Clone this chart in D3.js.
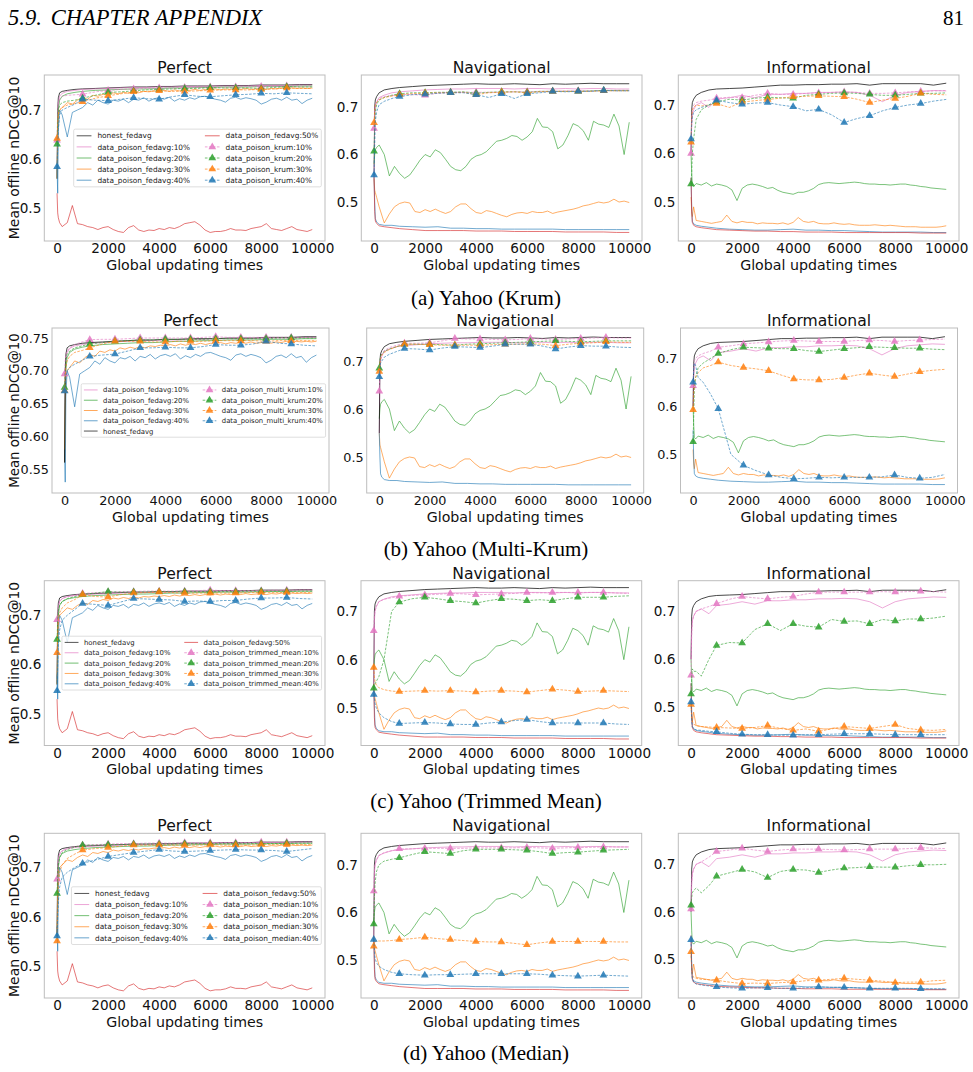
<!DOCTYPE html>
<html>
<head>
<meta charset="utf-8">
<script src="https://cdn.jsdelivr.net/npm/d3@7"></script>
<style>
  body { margin: 0; background: #fff; }
  svg { display: block; }
</style>
</head>
<body>
<div id="fig"></div>
<script>
// ---- x grids (global updating times) ----
const xMid = [0,25,50,100,200,400,700, 1000,1500,2000,2500,3000,3500,4000,4500,5000,5500,6000,6500,7000,7500,8000,8500,9000,9500,10000];
const xFine = [0,25,50,100,200,400,600,800,1000,1200,
  1400,1600,1800,2000,2200,2400,2600,2800,3000,3200,
  3400,3600,3800,4000,4200,4400,4600,4800,5000,5200,
  5400,5600,5800,6000,6200,6400,6600,6800,7000,7200,
  7400,7600,7800,8000,8200,8400,8600,8800,9000,9200,
  9400,9600,9800,10000];

// ---- fedavg runs, Perfect click model ----
const perfHonest   = [0.56,0.70,0.725,0.735,0.738,0.740,0.742, 0.743,0.744,0.745,0.746,0.747,0.747,0.748,0.748,0.749,0.749,0.749,0.750,0.750,0.750,0.751,0.751,0.751,0.752,0.752];
const perfFedavg10 = [0.56,0.68,0.715,0.728,0.734,0.738,0.740, 0.742,0.743,0.744,0.745,0.746,0.746,0.747,0.747,0.748,0.748,0.749,0.749,0.749,0.749,0.750,0.750,0.750,0.751,0.751];
const perfFedavg20 = [0.56,0.66,0.70,0.72,0.728,0.733,0.736, 0.738,0.740,0.741,0.742,0.743,0.743,0.744,0.745,0.745,0.746,0.746,0.747,0.747,0.747,0.748,0.748,0.748,0.749,0.749];
const perfFedavg30 = [0.56,0.64,0.69,0.70,0.705,0.715,0.712,0.72,0.725,0.722,
  0.73,0.728,0.732,0.73,0.735,0.733,0.736,0.734,0.737,0.735,
  0.738,0.737,0.739,0.738,0.74,0.738,0.741,0.739,0.741,0.74,
  0.742,0.74,0.742,0.741,0.743,0.741,0.743,0.742,0.743,0.742,
  0.744,0.742,0.743,0.744,0.742,0.744,0.743,0.745,0.743,0.745,
  0.744,0.745,0.744,0.745];
const perfFedavg40 = [0.58,0.53,0.66,0.70,0.69,0.645,0.695,0.70,0.705,0.715,
  0.71,0.72,0.715,0.712,0.72,0.718,0.722,0.715,0.722,0.72,
  0.725,0.718,0.723,0.725,0.722,0.726,0.718,0.723,0.72,0.725,
  0.722,0.727,0.728,0.725,0.722,0.72,0.716,0.724,0.726,0.722,
  0.725,0.723,0.72,0.712,0.716,0.722,0.724,0.72,0.726,0.72,
  0.722,0.713,0.72,0.724];
const perfFedavg50 = [0.53,0.49,0.48,0.47,0.462,0.47,0.505,0.468,0.466,0.462,
  0.46,0.456,0.46,0.462,0.456,0.452,0.45,0.46,0.464,0.455,
  0.452,0.455,0.454,0.458,0.456,0.46,0.458,0.462,0.468,0.47,
  0.472,0.465,0.455,0.45,0.452,0.452,0.454,0.458,0.455,0.455,
  0.454,0.458,0.46,0.462,0.468,0.458,0.456,0.454,0.458,0.462,
  0.456,0.454,0.452,0.456];

// ---- fedavg runs, Navigational click model ----
const navHonest   = [0.55,0.70,0.715,0.722,0.73,0.736,0.739, 0.741,0.743,0.745,0.746,0.747,0.748,0.749,0.748,0.748,0.749,0.748,0.747,0.749,0.748,0.749,0.75,0.749,0.749,0.749];
const navFedavg10 = [0.55,0.68,0.70,0.71,0.72,0.725,0.73, 0.732,0.734,0.736,0.737,0.738,0.738,0.739,0.739,0.739,0.738,0.739,0.739,0.738,0.739,0.738,0.739,0.739,0.738,0.738];
const navFedavg20 = [0.58,0.60,0.61,0.615,0.62,0.60,0.555,0.575,0.56,0.55,
  0.557,0.572,0.588,0.60,0.595,0.61,0.604,0.59,0.575,0.568,
  0.566,0.575,0.59,0.597,0.60,0.606,0.617,0.628,0.63,0.634,
  0.64,0.638,0.63,0.637,0.648,0.676,0.658,0.657,0.648,0.612,
  0.62,0.64,0.665,0.66,0.65,0.63,0.67,0.664,0.662,0.657,
  0.685,0.66,0.60,0.668];
const navFedavg30 = [0.55,0.525,0.52,0.51,0.49,0.456,0.475,0.49,0.497,0.50,
  0.498,0.48,0.478,0.484,0.48,0.485,0.48,0.476,0.48,0.49,
  0.496,0.496,0.486,0.478,0.476,0.482,0.48,0.476,0.472,0.469,
  0.474,0.477,0.478,0.476,0.48,0.478,0.478,0.481,0.476,0.479,
  0.481,0.483,0.485,0.488,0.492,0.494,0.497,0.50,0.498,0.50,
  0.506,0.50,0.502,0.499];
const navFedavg40 = [0.55,0.50,0.465,0.458,0.453,0.451,0.451, 0.449,0.448,0.447,0.448,0.445,0.445,0.444,0.444,0.443,0.443,0.443,0.443,0.443,0.442,0.442,0.442,0.442,0.442,0.442];
const navFedavg50 = [0.55,0.48,0.46,0.455,0.45,0.448,0.446, 0.444,0.442,0.44,0.44,0.44,0.44,0.439,0.439,0.439,0.438,0.438,0.438,0.438,0.437,0.437,0.437,0.437,0.436,0.436];

// ---- fedavg runs, Informational click model ----
const infoHonest   = [0.60,0.69,0.705,0.712,0.72,0.726,0.731, 0.733,0.734,0.735,0.737,0.739,0.741,0.741,0.742,0.742,0.743,0.743,0.744,0.741,0.744,0.744,0.744,0.744,0.741,0.745];
const infoFedavg10 = [0.60,0.66,0.68,0.69,0.70,0.705,0.695, 0.712,0.715,0.72,0.715,0.722,0.722,0.724,0.724,0.726,0.726,0.727,0.726,0.72,0.707,0.72,0.726,0.728,0.73,0.729];
const infoFedavg20 = [0.60,0.56,0.535,0.532,0.538,0.535,0.54,0.533,0.537,0.535,
  0.532,0.525,0.503,0.528,0.535,0.537,0.535,0.532,0.528,0.53,
  0.524,0.52,0.518,0.516,0.52,0.52,0.523,0.528,0.536,0.539,
  0.54,0.539,0.538,0.539,0.54,0.541,0.54,0.538,0.537,0.537,
  0.536,0.536,0.535,0.536,0.537,0.537,0.535,0.534,0.532,0.531,
  0.529,0.528,0.527,0.526];
const infoFedavg30 = [0.51,0.48,0.47,0.49,0.462,0.46,0.458,0.456,0.458,0.46,
  0.473,0.46,0.457,0.46,0.458,0.458,0.455,0.457,0.456,0.456,
  0.455,0.457,0.454,0.458,0.468,0.46,0.458,0.46,0.456,0.455,
  0.455,0.457,0.455,0.454,0.455,0.453,0.452,0.452,0.452,0.453,
  0.452,0.451,0.452,0.451,0.45,0.449,0.449,0.449,0.448,0.448,
  0.448,0.448,0.449,0.451];
const infoFedavg40 = [0.55,0.49,0.46,0.455,0.452,0.45,0.448, 0.446,0.444,0.443,0.442,0.442,0.443,0.444,0.442,0.442,0.441,0.441,0.44,0.439,0.438,0.438,0.438,0.438,0.437,0.437];
const infoFedavg50 = [0.55,0.48,0.458,0.452,0.449,0.447,0.445, 0.443,0.442,0.441,0.44,0.44,0.439,0.439,0.438,0.438,0.438,0.437,0.437,0.437,0.437,0.437,0.437,0.436,0.436,0.436];

// ---- Krum (on xMid) ----
const krumPerf10 = [0.638,0.70,0.715,0.722,0.728,0.73,0.731, 0.732,0.737,0.74,0.742,0.743,0.744,0.745,0.745,0.746,0.746,0.747,0.747,0.747,0.748,0.748,0.748,0.749,0.749,0.749];
const krumPerf20 = [0.63,0.68,0.70,0.71,0.715,0.718,0.72, 0.724,0.73,0.736,0.737,0.739,0.741,0.742,0.743,0.744,0.744,0.7456,0.745,0.745,0.745,0.744,0.746,0.7476,0.747,0.747];
const krumPerf30 = [0.642,0.67,0.69,0.70,0.705,0.71,0.713, 0.717,0.724,0.729,0.733,0.737,0.738,0.739,0.738,0.738,0.739,0.74,0.741,0.741,0.741,0.742,0.743,0.745,0.744,0.744];
const krumPerf40 = [0.584,0.62,0.66,0.69,0.70,0.705,0.712, 0.722,0.72,0.719,0.722,0.725,0.723,0.722,0.727,0.731,0.728,0.727,0.729,0.731,0.732,0.734,0.733,0.735,0.734,0.733];
const krumNav10 = [0.655,0.69,0.705,0.712,0.718,0.722,0.724, 0.727,0.726,0.725,0.729,0.731,0.731,0.731,0.731,0.731,0.732,0.732,0.733,0.733,0.734,0.734,0.734,0.735,0.735,0.735];
const krumNav20 = [0.607,0.66,0.69,0.705,0.715,0.72,0.725, 0.728,0.73,0.73,0.731,0.731,0.732,0.729,0.731,0.732,0.732,0.731,0.733,0.733,0.733,0.733,0.734,0.735,0.735,0.735];
const krumNav30 = [0.667,0.695,0.705,0.71,0.715,0.72,0.723, 0.726,0.728,0.729,0.73,0.73,0.731,0.726,0.73,0.731,0.732,0.73,0.732,0.733,0.733,0.733,0.733,0.734,0.734,0.734];
const krumNav40 = [0.557,0.62,0.67,0.69,0.705,0.712,0.718, 0.722,0.726,0.727,0.729,0.73,0.73,0.726,0.72,0.728,0.718,0.728,0.73,0.733,0.732,0.733,0.733,0.735,0.734,0.734];
const krumInfo10 = [0.60,0.67,0.69,0.70,0.705,0.708,0.71, 0.714,0.716,0.715,0.72,0.724,0.722,0.722,0.724,0.725,0.726,0.727,0.726,0.724,0.724,0.725,0.727,0.728,0.729,0.73];
const krumInfo20 = [0.537,0.56,0.60,0.63,0.67,0.69,0.70, 0.706,0.712,0.71,0.714,0.716,0.715,0.714,0.72,0.722,0.724,0.725,0.724,0.722,0.72,0.72,0.722,0.724,0.724,0.725];
const krumInfo30 = [0.623,0.67,0.69,0.695,0.70,0.698,0.70, 0.703,0.695,0.706,0.709,0.7115,0.714,0.717,0.718,0.719,0.718,0.717,0.712,0.705,0.71,0.7136,0.718,0.724,0.722,0.721];
const krumInfo40 = [0.63,0.66,0.675,0.685,0.69,0.695,0.70, 0.71,0.705,0.7014,0.704,0.705,0.70,0.6966,0.688,0.691,0.68,0.664,0.672,0.678,0.688,0.695,0.70,0.703,0.708,0.7116];

// ---- Multi-Krum ----
const mkrumPerf10 = [0.695,0.715,0.725,0.73,0.735,0.74,0.744, 0.7475,0.748,0.748,0.749,0.75,0.75,0.75,0.75,0.75,0.751,0.752,0.751,0.751,0.751,0.751,0.751,0.751,0.751,0.751];
const mkrumPerf20 = [0.6745,0.70,0.715,0.725,0.73,0.735,0.738, 0.741,0.743,0.745,0.746,0.747,0.747,0.748,0.748,0.748,0.748,0.749,0.749,0.749,0.749,0.749,0.75,0.75,0.75,0.75];
const mkrumPerf30 = [0.67,0.69,0.705,0.715,0.722,0.728,0.731, 0.735,0.741,0.745,0.745,0.745,0.744,0.744,0.745,0.745,0.745,0.746,0.746,0.746,0.746,0.745,0.746,0.746,0.746,0.746];
const mkrumPerf40 = [0.669,0.68,0.69,0.70,0.705,0.71,0.716, 0.722,0.724,0.7255,0.73,0.735,0.735,0.736,0.735,0.735,0.737,0.74,0.739,0.739,0.741,0.745,0.742,0.741,0.739,0.738];
const mkrumNav10 = [0.637,0.69,0.705,0.715,0.722,0.728,0.733, 0.737,0.737,0.738,0.742,0.747,0.746,0.746,0.745,0.744,0.745,0.747,0.746,0.745,0.746,0.747,0.748,0.749,0.748,0.748];
const mkrumNav20 = [0.685,0.70,0.71,0.715,0.72,0.725,0.73, 0.735,0.735,0.735,0.734,0.733,0.735,0.736,0.737,0.738,0.739,0.74,0.741,0.742,0.741,0.74,0.741,0.742,0.742,0.742];
const mkrumNav30 = [0.678,0.695,0.705,0.712,0.718,0.724,0.73, 0.735,0.735,0.734,0.733,0.733,0.733,0.733,0.734,0.735,0.735,0.736,0.735,0.732,0.735,0.737,0.738,0.74,0.739,0.739];
const mkrumNav40 = [0.667,0.685,0.695,0.70,0.708,0.714,0.72, 0.726,0.725,0.723,0.727,0.73,0.729,0.728,0.731,0.735,0.735,0.735,0.731,0.725,0.729,0.732,0.731,0.731,0.729,0.728];
const mkrumInfo10 = [0.643,0.68,0.695,0.70,0.705,0.71,0.715, 0.723,0.726,0.73,0.732,0.734,0.736,0.737,0.736,0.735,0.735,0.735,0.737,0.738,0.737,0.735,0.737,0.738,0.739,0.74];
const mkrumInfo20 = [0.526,0.58,0.63,0.66,0.68,0.69,0.70, 0.71,0.718,0.723,0.722,0.721,0.72,0.72,0.716,0.714,0.717,0.72,0.722,0.724,0.723,0.722,0.721,0.721,0.719,0.718];
const mkrumInfo30 = [0.593,0.63,0.65,0.66,0.67,0.68,0.685, 0.692,0.685,0.681,0.678,0.674,0.665,0.657,0.655,0.655,0.656,0.66,0.665,0.669,0.665,0.662,0.667,0.672,0.675,0.677];
const mkrumInfo40 = [0.65,0.68,0.69,0.685,0.66,0.65,0.625, 0.595,0.50,0.477,0.466,0.457,0.452,0.449,0.45,0.452,0.451,0.452,0.452,0.452,0.453,0.457,0.452,0.45,0.452,0.458];

// ---- Trimmed mean ----
const trimPerf10 = [0.691,0.71,0.72,0.728,0.734,0.738,0.741, 0.744,0.746,0.747,0.748,0.748,0.749,0.749,0.749,0.749,0.75,0.751,0.75,0.75,0.75,0.75,0.751,0.751,0.751,0.751];
const trimPerf20 = [0.651,0.69,0.71,0.72,0.728,0.734,0.738, 0.742,0.745,0.748,0.747,0.747,0.747,0.748,0.748,0.748,0.748,0.748,0.748,0.748,0.749,0.749,0.749,0.749,0.749,0.749];
const trimPerf30 = [0.624,0.66,0.69,0.705,0.715,0.725,0.732, 0.742,0.738,0.737,0.742,0.745,0.746,0.747,0.746,0.745,0.745,0.745,0.745,0.745,0.746,0.746,0.746,0.746,0.746,0.746];
const trimPerf40 = [0.547,0.60,0.64,0.67,0.69,0.70,0.712, 0.724,0.722,0.72,0.727,0.734,0.733,0.732,0.731,0.728,0.729,0.728,0.73,0.73,0.733,0.735,0.735,0.736,0.734,0.733];
const trimNav10 = [0.66,0.69,0.70,0.71,0.72,0.725,0.728, 0.731,0.733,0.734,0.735,0.737,0.736,0.734,0.735,0.736,0.737,0.739,0.738,0.739,0.739,0.739,0.739,0.739,0.738,0.737];
const trimNav20 = [0.541,0.545,0.55,0.555,0.565,0.60,0.70, 0.719,0.726,0.729,0.726,0.722,0.72,0.717,0.722,0.726,0.725,0.722,0.724,0.722,0.726,0.729,0.729,0.729,0.731,0.732];
const trimNav30 = [0.584,0.565,0.555,0.548,0.542,0.538,0.535, 0.534,0.535,0.536,0.535,0.536,0.535,0.533,0.535,0.536,0.535,0.533,0.536,0.539,0.537,0.534,0.535,0.536,0.535,0.534];
const trimNav40 = [0.528,0.52,0.51,0.50,0.49,0.48,0.472, 0.468,0.469,0.47,0.469,0.467,0.466,0.466,0.469,0.471,0.474,0.476,0.472,0.469,0.469,0.469,0.469,0.469,0.467,0.466];
const trimInfo10 = [0.567,0.65,0.68,0.69,0.70,0.705,0.71, 0.716,0.725,0.731,0.728,0.726,0.729,0.731,0.736,0.74,0.74,0.74,0.74,0.74,0.741,0.74,0.741,0.742,0.741,0.74];
const trimInfo20 = [0.528,0.56,0.58,0.575,0.575,0.565,0.60, 0.629,0.635,0.634,0.662,0.674,0.66,0.674,0.669,0.667,0.683,0.679,0.68,0.674,0.683,0.68,0.684,0.684,0.686,0.69];
const trimInfo30 = [0.506,0.48,0.47,0.465,0.462,0.46,0.459, 0.458,0.457,0.456,0.458,0.462,0.456,0.452,0.455,0.45,0.455,0.46,0.458,0.456,0.46,0.464,0.456,0.453,0.452,0.454];
const trimInfo40 = [0.511,0.47,0.46,0.456,0.453,0.452,0.45, 0.449,0.446,0.444,0.443,0.443,0.442,0.442,0.443,0.443,0.444,0.445,0.445,0.445,0.444,0.443,0.443,0.443,0.443,0.443];

// ---- Median ----
const medPerf10 = [0.676,0.70,0.715,0.725,0.733,0.738,0.742, 0.745,0.746,0.747,0.748,0.748,0.749,0.749,0.749,0.75,0.75,0.75,0.75,0.75,0.75,0.751,0.751,0.751,0.751,0.751];
const medPerf20 = [0.647,0.685,0.705,0.72,0.73,0.736,0.741, 0.745,0.745,0.746,0.746,0.747,0.747,0.747,0.747,0.748,0.748,0.748,0.748,0.748,0.748,0.748,0.748,0.749,0.749,0.749];
const medPerf30 = [0.551,0.62,0.66,0.69,0.705,0.718,0.727, 0.735,0.738,0.74,0.743,0.745,0.745,0.745,0.745,0.745,0.745,0.746,0.745,0.745,0.745,0.746,0.746,0.746,0.746,0.746];
const medPerf40 = [0.561,0.60,0.63,0.66,0.68,0.69,0.70, 0.708,0.715,0.722,0.726,0.73,0.733,0.736,0.733,0.732,0.733,0.734,0.735,0.736,0.735,0.735,0.734,0.732,0.735,0.738];
const medNav10 = [0.645,0.69,0.70,0.71,0.72,0.726,0.73, 0.734,0.734,0.735,0.735,0.735,0.735,0.736,0.736,0.736,0.736,0.737,0.736,0.735,0.736,0.737,0.737,0.738,0.738,0.738];
const medNav20 = [0.576,0.63,0.66,0.685,0.70,0.708,0.712, 0.715,0.722,0.728,0.726,0.724,0.73,0.733,0.733,0.733,0.732,0.731,0.728,0.724,0.726,0.727,0.729,0.731,0.732,0.733];
const medNav30 = [0.529,0.535,0.538,0.54,0.54,0.54,0.541, 0.543,0.545,0.548,0.545,0.543,0.541,0.539,0.538,0.538,0.535,0.532,0.536,0.539,0.539,0.539,0.539,0.539,0.538,0.538];
const medNav40 = [0.543,0.52,0.505,0.495,0.487,0.48,0.474, 0.471,0.469,0.468,0.469,0.469,0.47,0.471,0.471,0.471,0.471,0.471,0.47,0.468,0.467,0.466,0.467,0.468,0.467,0.466];
const medInfo10 = [0.606,0.66,0.68,0.69,0.70,0.705,0.715, 0.727,0.73,0.734,0.73,0.727,0.73,0.732,0.732,0.732,0.731,0.73,0.731,0.732,0.732,0.732,0.733,0.735,0.734,0.733];
const medInfo20 = [0.614,0.63,0.64,0.645,0.65,0.64,0.655, 0.675,0.682,0.689,0.684,0.672,0.685,0.689,0.688,0.683,0.688,0.692,0.693,0.695,0.694,0.694,0.697,0.699,0.699,0.70];
const medInfo30 = [0.516,0.48,0.468,0.462,0.46,0.458,0.457, 0.456,0.452,0.449,0.45,0.449,0.451,0.452,0.455,0.456,0.458,0.46,0.458,0.456,0.454,0.451,0.452,0.452,0.455,0.456];
const medInfo40 = [0.541,0.48,0.46,0.452,0.448,0.446,0.444, 0.442,0.44,0.439,0.44,0.44,0.439,0.439,0.44,0.442,0.441,0.441,0.44,0.439,0.439,0.439,0.439,0.438,0.438,0.438];

const xTicks = [0, 2000, 4000, 6000, 8000, 10000];
const models = ["Perfect", "Navigational", "Informational"];
const captions = ["(a) Yahoo (Krum)", "(b) Yahoo (Multi-Krum)", "(c) Yahoo (Trimmed Mean)", "(d) Yahoo (Median)"];

// lookup tables built from the arrays above
const fedavgRuns = {
  Perfect:       { honest: [xMid, perfHonest], 10: [xMid, perfFedavg10], 20: [xMid, perfFedavg20], 30: [xFine, perfFedavg30], 40: [xFine, perfFedavg40], 50: [xFine, perfFedavg50] },
  Navigational:  { honest: [xMid, navHonest],  10: [xMid, navFedavg10],  20: [xFine, navFedavg20], 30: [xFine, navFedavg30], 40: [xMid, navFedavg40],  50: [xMid, navFedavg50] },
  Informational: { honest: [xMid, infoHonest], 10: [xMid, infoFedavg10], 20: [xFine, infoFedavg20], 30: [xFine, infoFedavg30], 40: [xMid, infoFedavg40], 50: [xMid, infoFedavg50] }
};
const defenseRuns = {
  krum:         { Perfect: [krumPerf10, krumPerf20, krumPerf30, krumPerf40], Navigational: [krumNav10, krumNav20, krumNav30, krumNav40], Informational: [krumInfo10, krumInfo20, krumInfo30, krumInfo40] },
  multi_krum:   { Perfect: [mkrumPerf10, mkrumPerf20, mkrumPerf30, mkrumPerf40], Navigational: [mkrumNav10, mkrumNav20, mkrumNav30, mkrumNav40], Informational: [mkrumInfo10, mkrumInfo20, mkrumInfo30, mkrumInfo40] },
  trimmed_mean: { Perfect: [trimPerf10, trimPerf20, trimPerf30, trimPerf40], Navigational: [trimNav10, trimNav20, trimNav30, trimNav40], Informational: [trimInfo10, trimInfo20, trimInfo30, trimInfo40] },
  median:       { Perfect: [medPerf10, medPerf20, medPerf30, medPerf40], Navigational: [medNav10, medNav20, medNav30, medNav40], Informational: [medInfo10, medInfo20, medInfo30, medInfo40] }
};

const color = { honest: "#000000", 10: "#e377c2", 20: "#2ca02c", 30: "#ff7f0e", 40: "#1f77b4", 50: "#d62728" };

// plot order == legend order
const orderA = ["honest", "f10", "f20", "f30", "f40", "f50", "d10", "d20", "d30", "d40"];
const orderB = ["f10", "f20", "f30", "f40", "honest", "d10", "d20", "d30", "d40"];

// layout of the four figure rows
const rows = [
  { def: "krum", order: orderA, top: 75, bottom: 241, lefts: [44.3, 361.3, 678.3], w: 280.7, tickFs: 13.6, ylabFs: 14, legFs: 7.4,
    ydom: [[0.4326, 0.7714], [0.418, 0.7674], [0.4196, 0.7619]], yticks: [[0.5, 0.6, 0.7], [0.5, 0.6, 0.7], [0.5, 0.6, 0.7]], fmt: ".1f" },
  { def: "multi_krum", order: orderB, top: 328, bottom: 493, lefts: [52, 366.7, 680.5], w: 277, tickFs: 12.8, ylabFs: 13.3, legFs: 6.85,
    ydom: [[0.5134, 0.7653], [0.425, 0.7688], [0.4194, 0.7631]], yticks: [[0.55, 0.6, 0.65, 0.7, 0.75], [0.5, 0.6, 0.7], [0.5, 0.6, 0.7]], fmt: ".2f" },
  { def: "trimmed_mean", order: orderA, top: 580.7, bottom: 745.5, lefts: [44.3, 361, 678.3], w: 280.7, tickFs: 13.6, ylabFs: 14, legFs: 6.9,
    ydom: [[0.4361, 0.7701], [0.4225, 0.7633], [0.4205, 0.7638]], yticks: [[0.5, 0.6, 0.7], [0.5, 0.6, 0.7], [0.5, 0.6, 0.7]], fmt: ".1f" },
  { def: "median", order: orderA, top: 833.3, bottom: 998, lefts: [44.3, 361, 678.3], w: 280.7, tickFs: 13.6, ylabFs: 14, legFs: 7.4,
    ydom: [[0.4355, 0.7689], [0.42, 0.7667], [0.4186, 0.7653]], yticks: [[0.5, 0.6, 0.7], [0.5, 0.6, 0.7], [0.5, 0.6, 0.7]], fmt: ".1f" }
];
const captionY = [305, 556, 808, 1060];

const FONT = "'DejaVu Sans', sans-serif";
const SERIF = "'Liberation Serif', 'Times New Roman', serif";

const svg = d3.select("#fig").append("svg")
  .attr("width", 973).attr("height", 1072)
  .style("font-family", FONT);

// page header
svg.append("text").attr("x", 8).attr("y", 25)
  .style("font-family", SERIF).style("font-style", "italic").style("font-size", "22.5px")
  .text("5.9.")
  .append("tspan").attr("dx", 9).text("CHAPTER APPENDIX");
svg.append("text").attr("x", 964).attr("y", 25).attr("text-anchor", "end")
  .style("font-family", SERIF).style("font-size", "21px").text("81");

function entryInfo(key, def, model) {
  if (key === "honest") {
    const r = fedavgRuns[model].honest;
    return { label: "honest_fedavg", col: color.honest, xs: r[0], ys: r[1], dashed: false };
  }
  const pct = +key.slice(1);
  if (key[0] === "f") {
    const r = fedavgRuns[model][pct];
    return { label: `data_poison_fedavg:${pct}%`, col: color[pct], xs: r[0], ys: r[1], dashed: false };
  }
  return { label: `data_poison_${def}:${pct}%`, col: color[pct], xs: xMid, ys: defenseRuns[def][model][pct / 10 - 1], dashed: true };
}

const tri = d3.symbol(d3.symbolTriangle, 26);

function measure(txt, fs) {
  const t = svg.append("text").style("font-size", fs + "px").text(txt);
  const w = t.node().getComputedTextLength();
  t.remove();
  return w;
}

function drawLegend(entries, fs, right, cy) {
  const pad = 0.4 * fs, hl = 2 * fs, htp = 0.8 * fs, cs = 2 * fs, rh = fs, ls = 0.5 * fs;
  const nrows = Math.ceil(entries.length / 2);
  const cols = [entries.slice(0, nrows), entries.slice(nrows)];
  const cw = cols.map(c => d3.max(c, e => measure(e.label, fs)));
  const W = 2 * pad + 2 * (hl + htp) + cw[0] + cs + cw[1];
  const H = 2 * pad + nrows * rh + (nrows - 1) * ls;
  const x0 = right - W, y0 = cy - H / 2;
  const lg = svg.append("g");
  lg.append("rect").attr("x", x0).attr("y", y0).attr("width", W).attr("height", H)
    .attr("rx", 0.2 * fs).attr("fill", "#fff").attr("fill-opacity", 0.8)
    .attr("stroke", "#d6d6d6").attr("stroke-width", 0.8);
  cols.forEach((c, ci) => {
    const cx = x0 + pad + (ci ? hl + htp + cw[0] + cs : 0);
    c.forEach((e, k) => {
      const yc = y0 + pad + k * (rh + ls) + rh / 2;
      lg.append("line").attr("x1", cx).attr("x2", cx + hl).attr("y1", yc).attr("y2", yc)
        .attr("stroke", e.col).attr("stroke-width", 0.9).attr("stroke-opacity", 0.75)
        .attr("stroke-dasharray", e.dashed ? "2.6,1.4" : null);
      if (e.dashed) {
        lg.append("path").attr("d", tri).attr("transform", `translate(${cx + hl / 2},${yc})`)
          .attr("fill", e.col).attr("fill-opacity", 0.85);
      }
      lg.append("text").attr("x", cx + hl + htp).attr("y", yc + 0.36 * fs)
        .style("font-size", fs + "px").attr("fill", "#222").text(e.label);
    });
  });
}

rows.forEach((row, ri) => {
  models.forEach((model, mi) => {
    const left = row.lefts[mi], right = left + row.w;
    const x = d3.scaleLinear().domain([-500, 10500]).range([left, right]);
    const y = d3.scaleLinear().domain(row.ydom[mi]).range([row.bottom, row.top]);
    const cid = `clip-${ri}-${mi}`;
    svg.append("clipPath").attr("id", cid).append("rect")
      .attr("x", left).attr("y", row.top).attr("width", row.w).attr("height", row.bottom - row.top);

    const plot = svg.append("g").attr("clip-path", `url(#${cid})`);
    const line = d3.line().x(d => x(d[0])).y(d => y(d[1]));
    const entries = row.order.map(k => entryInfo(k, row.def, model));

    entries.forEach(e => {
      const pts = e.xs.map((v, i) => [v, e.ys[i]]);
      plot.append("path").datum(pts).attr("d", line)
        .attr("fill", "none").attr("stroke", e.col)
        .attr("stroke-width", 0.9).attr("stroke-opacity", e.col === "#000000" ? 0.8 : 0.7)
        .attr("stroke-dasharray", e.dashed ? "2.6,1.4" : null);
      if (e.dashed) {
        plot.selectAll(null).data(pts.filter(d => d[0] % 1000 === 0 && d[0] <= 9000))
          .enter().append("path").attr("d", tri)
          .attr("transform", d => `translate(${x(d[0])},${y(d[1])})`)
          .attr("fill", e.col).attr("fill-opacity", 0.85);
      }
    });

    // frame
    svg.append("rect").attr("x", left).attr("y", row.top).attr("width", row.w).attr("height", row.bottom - row.top)
      .attr("fill", "none").attr("stroke", "#bdbdbd").attr("stroke-width", 1);

    // axes (baseline of x tick labels ~12px under the frame)
    const ax = svg.append("g").attr("transform", `translate(0,${row.bottom})`)
      .call(d3.axisBottom(x).tickValues(xTicks).tickFormat(d3.format("d")).tickSize(0).tickPadding(12 - 0.71 * row.tickFs));
    ax.select(".domain").remove();
    ax.selectAll("text").attr("font-family", FONT).attr("font-size", row.tickFs).attr("fill", "#111");

    const ay = svg.append("g").attr("transform", `translate(${left},0)`)
      .call(d3.axisLeft(y).tickValues(row.yticks[mi]).tickFormat(d3.format(mi === 0 ? row.fmt : ".1f")).tickSize(0).tickPadding(3));
    ay.select(".domain").remove();
    ay.selectAll("text").attr("font-family", FONT).attr("font-size", row.tickFs).attr("fill", "#111");

    // title and labels
    svg.append("text").attr("x", (left + right) / 2).attr("y", row.top - 2).attr("text-anchor", "middle")
      .style("font-size", "15.6px").attr("fill", "#111").text(model);
    svg.append("text").attr("x", (left + right) / 2).attr("y", row.bottom + 28.5).attr("text-anchor", "middle")
      .style("font-size", "14.2px").attr("fill", "#111").text("Global updating times");
    if (mi === 0) {
      svg.append("text").attr("transform", `translate(19,${(row.top + row.bottom) / 2}) rotate(-90)`)
        .attr("text-anchor", "middle").style("font-size", row.ylabFs + "px").attr("fill", "#111")
        .text("Mean offline nDCG@10");
      drawLegend(entries, row.legFs, right - 0.5 * row.legFs, (row.top + row.bottom) / 2);
    }
  });

  svg.append("text").attr("x", 486).attr("y", captionY[ri]).attr("text-anchor", "middle")
    .style("font-family", SERIF).style("font-size", "21px").text(captions[ri]);
});
</script>
</body>
</html>
